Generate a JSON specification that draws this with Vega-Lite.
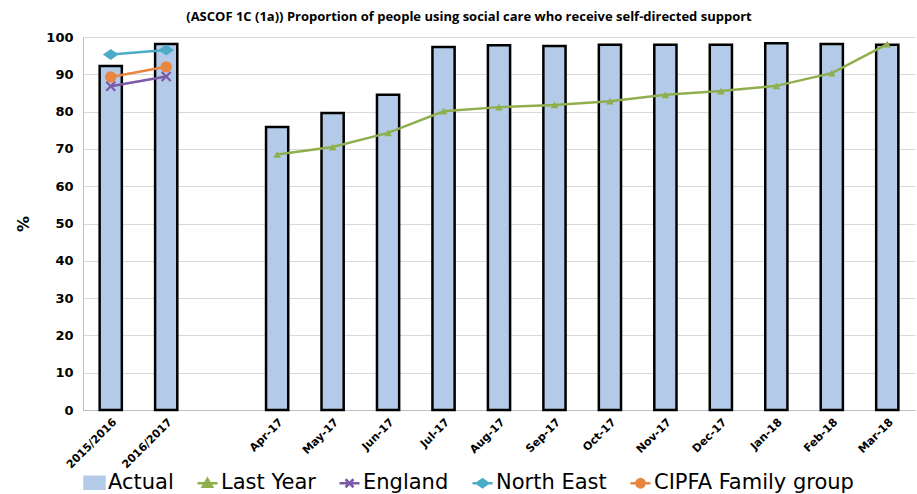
{
  "$schema": "https://vega.github.io/schema/vega-lite/v6.json",
  "width": 832,
  "height": 373,
  "autosize": {"type": "none"},
  "padding": {"left": 83, "top": 37, "right": 2, "bottom": 84},
  "background": "white",
  "title": {
    "text": "(ASCOF 1C (1a)) Proportion of people using social care who receive self-directed support",
    "font": "Open Sans",
    "fontSize": 13,
    "fontWeight": "bold",
    "color": "black",
    "anchor": "middle",
    "dx": -30,
    "offset": 7
  },
  "data": {
    "values": [
      {"cat": "2015/2016", "series": "Actual", "value": 92.2},
      {"cat": "2016/2017", "series": "Actual", "value": 98.1},
      {"cat": "Apr-17", "series": "Actual", "value": 75.9},
      {"cat": "May-17", "series": "Actual", "value": 79.6},
      {"cat": "Jun-17", "series": "Actual", "value": 84.5},
      {"cat": "Jul-17", "series": "Actual", "value": 97.3},
      {"cat": "Aug-17", "series": "Actual", "value": 97.8},
      {"cat": "Sep-17", "series": "Actual", "value": 97.6},
      {"cat": "Oct-17", "series": "Actual", "value": 97.9},
      {"cat": "Nov-17", "series": "Actual", "value": 97.9},
      {"cat": "Dec-17", "series": "Actual", "value": 97.9},
      {"cat": "Jan-18", "series": "Actual", "value": 98.3},
      {"cat": "Feb-18", "series": "Actual", "value": 98.1},
      {"cat": "Mar-18", "series": "Actual", "value": 97.9},
      {"cat": "Apr-17", "series": "Last Year", "value": 68.5},
      {"cat": "May-17", "series": "Last Year", "value": 70.5},
      {"cat": "Jun-17", "series": "Last Year", "value": 74.3},
      {"cat": "Jul-17", "series": "Last Year", "value": 80.1},
      {"cat": "Aug-17", "series": "Last Year", "value": 81.2},
      {"cat": "Sep-17", "series": "Last Year", "value": 81.8},
      {"cat": "Oct-17", "series": "Last Year", "value": 82.8},
      {"cat": "Nov-17", "series": "Last Year", "value": 84.5},
      {"cat": "Dec-17", "series": "Last Year", "value": 85.5},
      {"cat": "Jan-18", "series": "Last Year", "value": 86.9},
      {"cat": "Feb-18", "series": "Last Year", "value": 90.3},
      {"cat": "Mar-18", "series": "Last Year", "value": 98.1},
      {"cat": "2015/2016", "series": "England", "value": 86.8},
      {"cat": "2016/2017", "series": "England", "value": 89.4},
      {"cat": "2015/2016", "series": "North East", "value": 95.3},
      {"cat": "2016/2017", "series": "North East", "value": 96.5},
      {"cat": "2015/2016", "series": "CIPFA Family group", "value": 89.3},
      {"cat": "2016/2017", "series": "CIPFA Family group", "value": 92.0}
    ]
  },
  "encoding": {
    "x": {
      "field": "cat",
      "type": "nominal",
      "sort": null,
      "scale": {
        "domain": ["2015/2016", "2016/2017", " ", "Apr-17", "May-17", "Jun-17", "Jul-17", "Aug-17", "Sep-17", "Oct-17", "Nov-17", "Dec-17", "Jan-18", "Feb-18", "Mar-18"],
        "paddingInner": 0,
        "paddingOuter": 0
      },
      "axis": {
        "title": null,
        "labelAngle": -45,
        "labelFont": "DejaVu Sans",
        "labelFontWeight": "bold",
        "labelFontSize": 11,
        "labelColor": "black",
        "ticks": false,
        "labelPadding": 6,
        "domainColor": "#bfbfbf",
        "grid": false
      }
    },
    "y": {
      "field": "value",
      "type": "quantitative",
      "scale": {"domain": [0, 100], "nice": false},
      "axis": {
        "values": [0, 10, 20, 30, 40, 50, 60, 70, 80, 90, 100],
        "title": "%",
        "titleFont": "DejaVu Sans",
        "titleFontSize": 16,
        "titleFontWeight": "bold",
        "titleColor": "black",
        "titlePadding": 14,
        "labelFont": "DejaVu Sans",
        "labelFontWeight": "bold",
        "labelFontSize": 13,
        "labelColor": "black",
        "labelPadding": 10,
        "ticks": false,
        "grid": true,
        "gridColor": "#d9d9d9",
        "domainColor": "#bfbfbf"
      }
    }
  },
  "layer": [
    {
      "transform": [{"filter": "datum.series === 'Actual'"}],
      "mark": {"type": "bar", "width": {"band": 0.4}, "stroke": "black", "strokeWidth": 2.5, "opacity": 1},
      "encoding": {
        "color": {
          "field": "series",
          "type": "nominal",
          "scale": {
            "domain": ["Actual", "Last Year", "England", "North East", "CIPFA Family group"],
            "range": ["#b3cbe8", "#8faf4e", "#7b5aa6", "#4bacc6", "#e8863f"]
          }
        }
      }
    },
    {
      "transform": [{"filter": "datum.series !== 'Actual'"}],
      "mark": {"type": "line", "strokeWidth": 2.5},
      "encoding": {
        "color": {"field": "series", "type": "nominal"}
      }
    },
    {
      "transform": [{"filter": "datum.series === 'Last Year'"}],
      "mark": {"type": "point", "shape": "triangle-up", "filled": true, "size": 60, "opacity": 1},
      "encoding": {"color": {"field": "series", "type": "nominal"}}
    },
    {
      "transform": [{"filter": "datum.series === 'England'"}],
      "mark": {"type": "point", "shape": "M-1,-0.7L-0.7,-1L0,-0.3L0.7,-1L1,-0.7L0.3,0L1,0.7L0.7,1L0,0.3L-0.7,1L-1,0.7L-0.3,0Z", "filled": true, "size": 110, "opacity": 1},
      "encoding": {"color": {"field": "series", "type": "nominal"}}
    },
    {
      "transform": [{"filter": "datum.series === 'North East'"}],
      "mark": {"type": "point", "shape": "M0,-0.7L1,0L0,0.7L-1,0Z", "filled": true, "size": 250, "opacity": 1},
      "encoding": {"color": {"field": "series", "type": "nominal"}}
    },
    {
      "transform": [{"filter": "datum.series === 'CIPFA Family group'"}],
      "mark": {"type": "point", "shape": "circle", "filled": true, "size": 130, "opacity": 1},
      "encoding": {"color": {"field": "series", "type": "nominal"}}
    },
    {
      "transform": [{"filter": "datum.value > 1000"}],
      "mark": {"type": "point", "filled": true, "size": 400, "opacity": 1, "strokeWidth": 2.5},
      "encoding": {
        "color": {
          "field": "series",
          "type": "nominal",
          "legend": {
            "title": null,
            "orient": "none",
            "legendX": 0,
            "legendY": 434,
            "direction": "horizontal",
            "labelFont": "DejaVu Sans",
            "labelFontSize": 21,
            "labelColor": "black",
            "labelLimit": 400,
            "labelOffset": 2,
            "symbolSize": 400,
            "symbolStrokeWidth": 2.5,
            "columnPadding": 18
          }
        },
        "stroke": {
          "field": "series",
          "type": "nominal",
          "scale": {
            "domain": ["Actual", "Last Year", "England", "North East", "CIPFA Family group"],
            "range": ["black", "#8faf4e", "#7b5aa6", "#4bacc6", "#e8863f"]
          },
          "legend": {
            "title": null,
            "orient": "none",
            "legendX": 0,
            "legendY": 434,
            "direction": "horizontal",
            "labelFont": "DejaVu Sans",
            "labelFontSize": 21,
            "labelColor": "black",
            "labelLimit": 400,
            "labelOffset": 2,
            "symbolSize": 400,
            "symbolStrokeWidth": 2.5,
            "columnPadding": 18
          }
        },
        "shape": {
          "field": "series",
          "type": "nominal",
          "scale": {
            "domain": ["Actual", "Last Year", "England", "North East", "CIPFA Family group"],
            "range": ["M-1,-0.6H1V0.6H-1Z", "M-1,0H1M0,-0.42L0.46,0.36H-0.46Z", "M-1,0H1M-0.4,-0.4L0.4,0.4M0.4,-0.4L-0.4,0.4", "M-1,0H1M0,-0.4L0.55,0L0,0.4L-0.55,0Z", "M-1,0H1M0.42,0A0.42,0.42,0,1,1,-0.42,0A0.42,0.42,0,1,1,0.42,0Z"]
          },
          "legend": {
            "title": null,
            "orient": "none",
            "legendX": 0,
            "legendY": 434,
            "direction": "horizontal",
            "labelFont": "DejaVu Sans",
            "labelFontSize": 21,
            "labelColor": "black",
            "labelLimit": 400,
            "labelOffset": 2,
            "symbolSize": 400,
            "symbolStrokeWidth": 2.5,
            "columnPadding": 18
          }
        }
      }
    }
  ],
  "config": {
    "view": {"stroke": null}
  }
}
